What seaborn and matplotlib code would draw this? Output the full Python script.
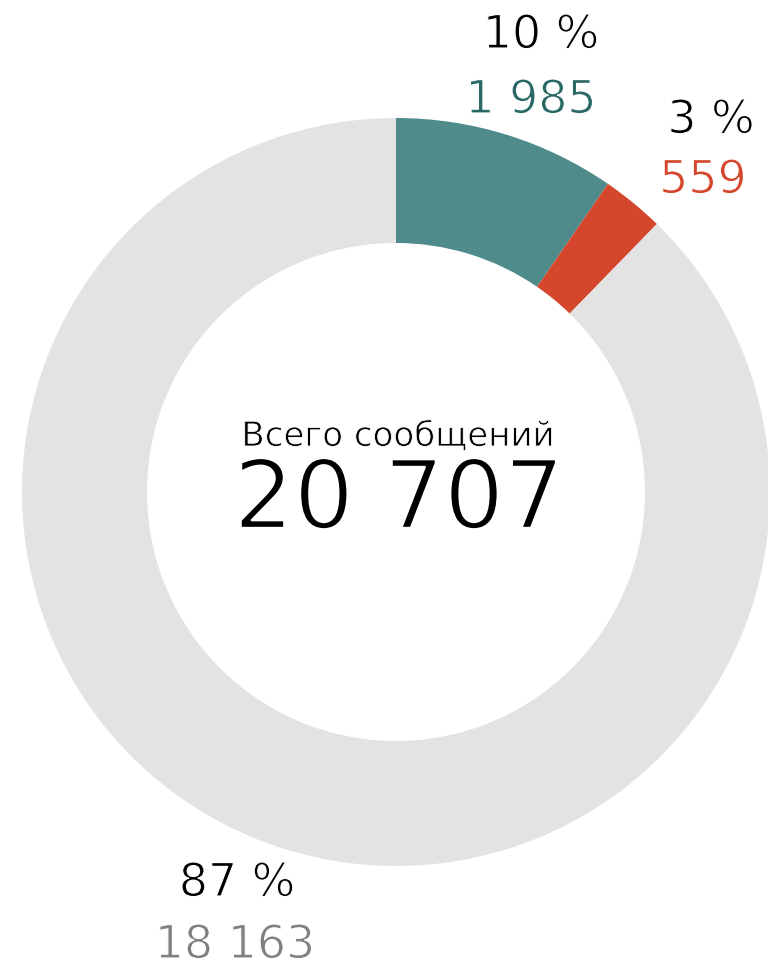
import matplotlib
matplotlib.use("Agg")
import matplotlib.pyplot as plt
import matplotlib.patheffects as pe
import seaborn as sns

# data
categories = ["Группа 1", "Группа 2", "Прочие"]
counts = [1985, 559, 18163]
percent_labels = ["10 %", "3 %", "87 %"]
count_labels = ["1 985", "559", "18 163"]
total_label = "20 707"
center_title = "Всего сообщений"

W, H = 768, 964
WEDGE_COLORS = ["#508b8b", "#d5472d", "#e3e3e3"]
TEXT_COLORS = ["#2a6866", "#d5472d", "#808080"]

sns.set_theme(style="white")
plt.rcParams["font.family"] = ["DejaVu Sans"]


def thin(size):
    # a thin white outline eats into the glyph so the font looks lighter
    return [pe.Stroke(linewidth=size * 0.025, foreground="white")]


fig = plt.figure(figsize=(W / 100, H / 100), dpi=100)
ax = fig.add_axes([0, 0, 1, 1])

cx, cy, r_out, r_in = 396, H - 492, 374, 249
ax.pie(
    counts,
    colors=WEDGE_COLORS,
    startangle=90,
    counterclock=False,
    center=(cx, cy),
    radius=r_out,
    wedgeprops=dict(width=r_out - r_in, linewidth=0),
    frame=True,
)
ax.set_xlim(0, W)
ax.set_ylim(0, H)
ax.set_aspect("equal")
ax.axis("off")

# label anchors (pixel x centre, pixel baseline) for pct and count
label_pos = [((541, 48), (531, 113)), ((711, 133), (703, 193)), ((237, 896), (235, 958))]
for (pct_xy, cnt_xy), pct, cnt, col in zip(label_pos, percent_labels, count_labels, TEXT_COLORS):
    ax.text(pct_xy[0], H - pct_xy[1], pct, ha="center", va="baseline",
            fontsize=33, color="#000000", path_effects=thin(33))
    ax.text(cnt_xy[0], H - cnt_xy[1], cnt, ha="center", va="baseline",
            fontsize=33, color=col, path_effects=thin(33))

ax.text(398, H - 446, center_title, ha="center", va="baseline",
        fontsize=24.5, color="#000000", path_effects=thin(24.5))
ax.text(399, H - 528, total_label, ha="center", va="baseline",
        fontsize=68, color="#000000", path_effects=thin(68))

fig.savefig("out.png", dpi=100)
